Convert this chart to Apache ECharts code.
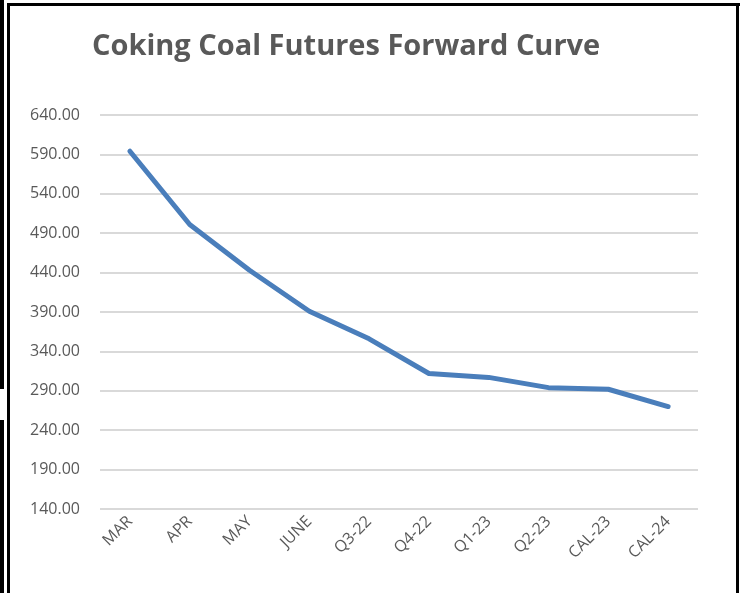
<!DOCTYPE html>
<html>
<head>
<meta charset="utf-8">
<script src="https://cdn.jsdelivr.net/npm/echarts@6/dist/echarts.min.js"></script>
<style>
  html, body { margin: 0; padding: 0; background: #fff; }
  #chart { width: 740px; height: 593px; }
</style>
</head>
<body>
<div id="chart"></div>
<script>
var months = ['MAR', 'APR', 'MAY', 'JUNE', 'Q3-22', 'Q4-22', 'Q1-23', 'Q2-23', 'CAL-23', 'CAL-24'];
var prices = [594, 501, 443, 391, 356, 312, 307, 294, 292, 270];

var chart = echarts.init(document.getElementById('chart'));

var option = {
    backgroundColor: '#ffffff',
    animation: false,
    title: {
        text: 'Coking Coal Futures Forward Curve',
        left: 87,
        top: 27,
        textStyle: {
            fontFamily: 'Open Sans',
            fontWeight: 'bold',
            fontSize: 29,
            color: '#595959'
        }
    },
    grid: {
        left: 100,
        right: 42,
        top: 115,
        bottom: 84
    },
    xAxis: {
        type: 'category',
        data: months,
        boundaryGap: true,
        axisLine: { show: false },
        axisTick: { show: false },
        axisLabel: {
            rotate: 45,
            margin: 10,
            fontFamily: 'Open Sans',
            fontSize: 16,
            color: '#595959'
        }
    },
    yAxis: {
        type: 'value',
        min: 140,
        max: 640,
        interval: 50,
        axisLine: { show: false },
        axisTick: { show: false },
        axisLabel: {
            margin: 20,
            fontFamily: 'Open Sans',
            fontSize: 16,
            color: '#595959',
            formatter: function (v) { return v.toFixed(2); }
        },
        splitLine: {
            lineStyle: { color: '#d9d9d9', width: 2 }
        }
    },
    series: [{
        name: 'Forward Curve',
        type: 'line',
        data: prices,
        symbol: 'none',
        lineStyle: { color: '#4a7ebb', width: 5, cap: 'round', join: 'round' }
    }],
    graphic: [
        // left black bars (cropped screenshot edges)
        { type: 'rect', shape: { x: 0, y: 0, width: 4, height: 389 }, style: { fill: '#000' } },
        { type: 'rect', shape: { x: 0, y: 420, width: 4, height: 173 }, style: { fill: '#000' } },
        // frame
        { type: 'rect', shape: { x: 7, y: 3, width: 733, height: 3 }, style: { fill: '#000' } },
        { type: 'rect', shape: { x: 7, y: 3, width: 3, height: 590 }, style: { fill: '#000' } },
        { type: 'rect', shape: { x: 736, y: 3, width: 3, height: 590 }, style: { fill: '#000' } }
    ]
};

chart.setOption(option);
</script>
</body>
</html>
